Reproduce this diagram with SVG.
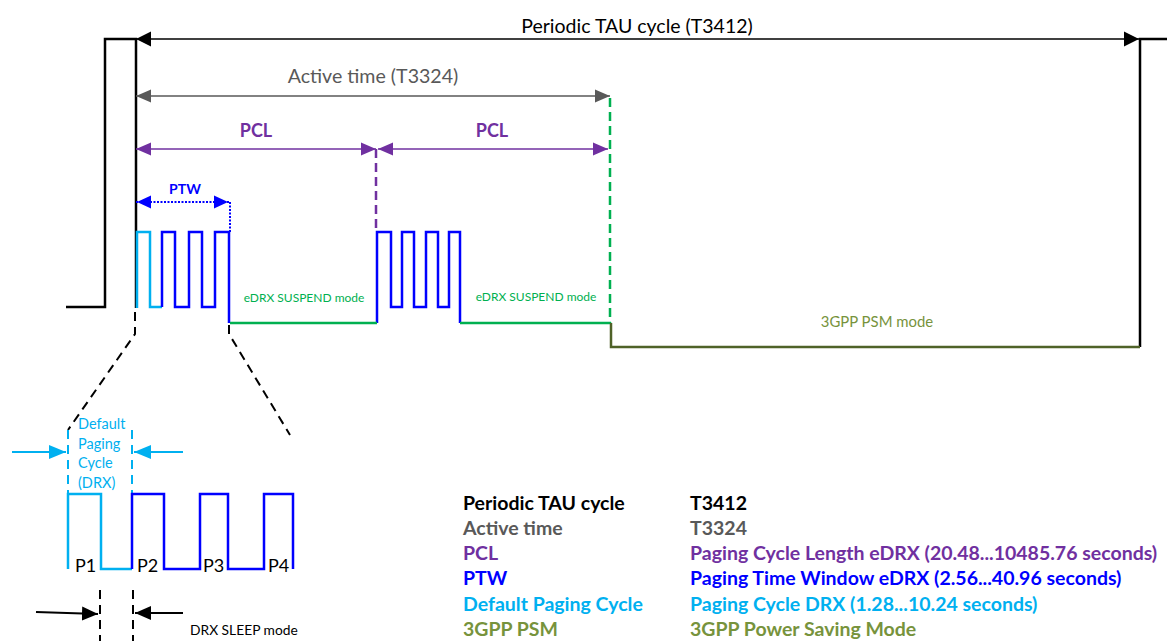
<svg xmlns="http://www.w3.org/2000/svg" width="1167" height="641" viewBox="0 0 1167 641">
  <style>
    text { font-family: Lato, "Open Sans", "Liberation Sans", sans-serif; }
    .t-blk { fill: #000000; }
    .t-gry { fill: #595959; }
    .t-pur { fill: #7030A0; }
    .t-blu { fill: #0000FF; }
    .t-lbl { fill: #00B0F0; }
    .t-grn { fill: #00B050; }
    .t-olv { fill: #77933C; }
    .b { font-weight: bold; }
    .wave { fill: none; stroke-width: 2.5; stroke-linejoin: miter; }
  </style>
  <defs>
    <marker id="ah-black" markerUnits="userSpaceOnUse" markerWidth="16" markerHeight="16" refX="15" refY="8" orient="auto-start-reverse">
      <path d="M0,0.5 L15,8 L0,15.5 z" fill="#000000"/>
    </marker>
    <marker id="ah-grey" markerUnits="userSpaceOnUse" markerWidth="16" markerHeight="16" refX="15" refY="8" orient="auto-start-reverse">
      <path d="M0,1.5 L15,8 L0,14.5 z" fill="#595959"/>
    </marker>
    <marker id="ah-purple" markerUnits="userSpaceOnUse" markerWidth="16" markerHeight="16" refX="15" refY="8" orient="auto-start-reverse">
      <path d="M0,1.5 L15,8 L0,14.5 z" fill="#7030A0"/>
    </marker>
    <marker id="ah-blue" markerUnits="userSpaceOnUse" markerWidth="16" markerHeight="16" refX="15" refY="8" orient="auto-start-reverse">
      <path d="M0,1.5 L14,8 L0,14.5 z" fill="#0000FF"/>
    </marker>
    <marker id="ah-lblue" markerUnits="userSpaceOnUse" markerWidth="18" markerHeight="16" refX="17" refY="8" orient="auto">
      <path d="M0,1 L17,8 L0,15 z" fill="#00B0F0"/>
    </marker>
    <marker id="ah-black1" markerUnits="userSpaceOnUse" markerWidth="18" markerHeight="16" refX="16" refY="8" orient="auto">
      <path d="M0,1 L16,8 L0,15 z" fill="#000000"/>
    </marker>
  </defs>
  <rect width="1167" height="641" fill="#ffffff"/>

  <!-- TAU frame: black on/off signal -->
  <g id="tau-signal">
    <polyline class="wave" stroke="#000000" points="66,307 105,307 105,39 136,39 136,308"/>
    <polyline class="wave" stroke="#000000" points="1140,347 1140,39 1167,39"/>
  </g>

  <!-- eDRX paging bursts -->
  <g id="ptw-burst-1">
    <polyline class="wave" stroke="#00B0F0" points="137,308 137,232 150,232 150,307 162,307"/>
    <polyline class="wave" stroke="#0000FF" points="162,307 162,232 175,232 175,307 189,307 189,232 202,232 202,307 215,307 215,232 229,232 229,323"/>
  </g>
  <g id="ptw-burst-2">
    <polyline class="wave" stroke="#0000FF" points="377,323 377,232 391,232 391,307 402,307 402,232 414,232 414,307 426,307 426,232 438,232 438,307 449,307 449,232 460,232 460,323"/>
  </g>
  <g id="suspend-lines">
    <line x1="230" y1="323" x2="377" y2="323" stroke="#00B050" stroke-width="2.5"/>
    <line x1="460" y1="323" x2="611" y2="323" stroke="#00B050" stroke-width="2.5"/>
    <polyline class="wave" stroke="#4F6228" points="611,323 611,347 1140,347"/>
  </g>

  <!-- Dimension arrows and guide lines -->
  <g id="connectors">
    <line x1="136" y1="39" x2="1139" y2="39" stroke="#000000" stroke-width="1.5" marker-start="url(#ah-black)" marker-end="url(#ah-black)"/>
    <line x1="136" y1="96" x2="610" y2="96" stroke="#595959" stroke-width="1.5" marker-start="url(#ah-grey)" marker-end="url(#ah-grey)"/>
    <line x1="136" y1="149" x2="376" y2="149" stroke="#7030A0" stroke-width="1.5" marker-start="url(#ah-purple)" marker-end="url(#ah-purple)"/>
    <line x1="378" y1="149" x2="608" y2="149" stroke="#7030A0" stroke-width="1.5" marker-start="url(#ah-purple)" marker-end="url(#ah-purple)"/>
    <line x1="136" y1="202" x2="229" y2="202" stroke="#0000FF" stroke-width="2" stroke-dasharray="2,1.5" marker-start="url(#ah-blue)" marker-end="url(#ah-blue)"/>
    <line x1="230" y1="202" x2="230" y2="232" stroke="#0000FF" stroke-width="2" stroke-dasharray="2,1.5"/>
    <line x1="376" y1="149" x2="376" y2="232" stroke="#7030A0" stroke-width="2.5" stroke-dasharray="9,5"/>
    <line x1="610" y1="98" x2="610" y2="323" stroke="#00B050" stroke-width="2.5" stroke-dasharray="9,5"/>
    <!-- zoom-out guides -->
    <path d="M135,312 L135,334 L68,430" fill="none" stroke="#000000" stroke-width="2" stroke-dasharray="9,6"/>
    <path d="M229,325 L229,334 L290,435" fill="none" stroke="#000000" stroke-width="2" stroke-dasharray="9,6"/>
    <!-- default paging cycle markers -->
    <line x1="68" y1="430" x2="68" y2="494" stroke="#00B0F0" stroke-width="2" stroke-dasharray="9,6"/>
    <line x1="132" y1="430" x2="132" y2="494" stroke="#00B0F0" stroke-width="2" stroke-dasharray="9,6"/>
    <line x1="12" y1="452" x2="66" y2="452" stroke="#00B0F0" stroke-width="2" marker-end="url(#ah-lblue)"/>
    <line x1="183" y1="452" x2="134" y2="452" stroke="#00B0F0" stroke-width="2" marker-end="url(#ah-lblue)"/>
    <!-- DRX sleep markers -->
    <line x1="100" y1="590" x2="100" y2="641" stroke="#000000" stroke-width="2" stroke-dasharray="9,6"/>
    <line x1="133" y1="590" x2="133" y2="641" stroke="#000000" stroke-width="2" stroke-dasharray="9,6"/>
    <line x1="36" y1="612" x2="98" y2="614" stroke="#000000" stroke-width="2" marker-end="url(#ah-black1)"/>
    <line x1="183" y1="613" x2="135" y2="613" stroke="#000000" stroke-width="2" marker-end="url(#ah-black1)"/>
  </g>

  <!-- Detail: DRX paging occasions -->
  <g id="drx-detail">
    <polyline class="wave" stroke="#00B0F0" points="68,569 68,494 101,494 101,569 132,569"/>
    <polyline class="wave" stroke="#0000FF" points="132,569 132,494 164,494 164,569 200,569 200,494 228,494 228,569 264,569 264,494 293,494 293,569"/>
    <text x="75" y="572" font-size="18" class="t-blk">P1</text>
    <text x="137" y="572" font-size="18" class="t-blk">P2</text>
    <text x="203" y="572" font-size="18" class="t-blk">P3</text>
    <text x="268" y="572" font-size="18" class="t-blk">P4</text>
  </g>

  <!-- Labels -->
  <g id="labels">
    <text x="637" y="33" font-size="19.5" text-anchor="middle" class="t-blk">Periodic TAU cycle (T3412)</text>
    <text x="373" y="83" font-size="19.6" text-anchor="middle" class="t-gry">Active time (T3324)</text>
    <text x="256" y="137" font-size="18" text-anchor="middle" class="t-pur b">PCL</text>
    <text x="492" y="137" font-size="18" text-anchor="middle" class="t-pur b">PCL</text>
    <text x="185" y="194" font-size="14" text-anchor="middle" class="t-blu b">PTW</text>
    <text x="304" y="302" font-size="12" text-anchor="middle" class="t-grn">eDRX SUSPEND mode</text>
    <text x="536" y="301" font-size="12" text-anchor="middle" class="t-grn">eDRX SUSPEND mode</text>
    <text x="877" y="327" font-size="14.9" text-anchor="middle" class="t-olv">3GPP PSM mode</text>
    <text font-size="14.5" class="t-lbl">
      <tspan x="78" y="429">Default</tspan>
      <tspan x="78" y="449">Paging</tspan>
      <tspan x="78" y="468">Cycle</tspan>
      <tspan x="78" y="488">(DRX)</tspan>
    </text>
    <text x="190" y="635" font-size="13.8" class="t-blk">DRX SLEEP mode</text>
  </g>

  <!-- Legend -->
  <g id="legend" font-size="19.5" font-weight="bold">
    <text x="463" y="510" class="t-blk">Periodic TAU cycle</text>
    <text x="690" y="510" class="t-blk">T3412</text>
    <text x="463" y="535" class="t-gry">Active time</text>
    <text x="690" y="535" class="t-gry">T3324</text>
    <text x="463" y="560" class="t-pur">PCL</text>
    <text x="690" y="560" class="t-pur">Paging Cycle Length eDRX (20.48...10485.76 seconds)</text>
    <text x="463" y="585" class="t-blu">PTW</text>
    <text x="690" y="585" class="t-blu">Paging Time Window eDRX (2.56...40.96 seconds)</text>
    <text x="463" y="611" class="t-lbl">Default Paging Cycle</text>
    <text x="690" y="611" class="t-lbl">Paging Cycle DRX (1.28...10.24 seconds)</text>
    <text x="463" y="636" class="t-olv">3GPP PSM</text>
    <text x="690" y="636" class="t-olv">3GPP Power Saving Mode</text>
  </g>
</svg>
